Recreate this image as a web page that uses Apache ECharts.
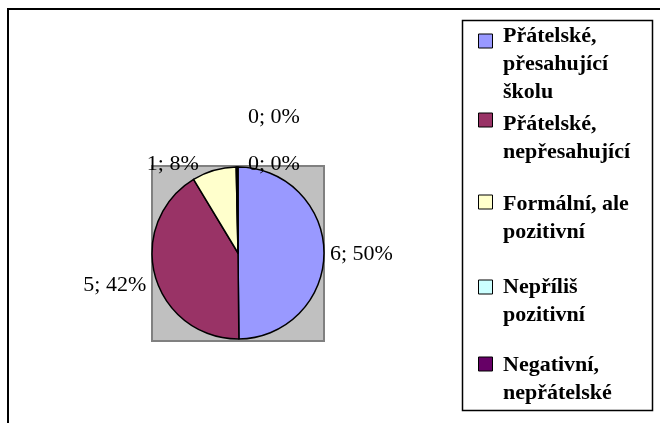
<!DOCTYPE html>
<html>
<head>
<meta charset="utf-8">
<script src="https://cdn.jsdelivr.net/npm/echarts@6/dist/echarts.min.js"></script>
<style>
  html, body { margin: 0; padding: 0; background: #fff; }
  #chart { width: 660px; height: 423px; }
</style>
</head>
<body>
<div id="chart"></div>
<script>
// data
var categories = [
  'Přátelské,\npřesahující\nškolu',
  'Přátelské,\nnepřesahující',
  'Formální, ale\npozitivní',
  'Nepříliš\npozitivní',
  'Negativní,\nnepřátelské'
];
var counts = [6, 5, 1, 0, 0];
var colors = ['#9999ff', '#993366', '#ffffcc', '#ccffff', '#660066'];

// layout
var serif = '"Liberation Serif", "Times New Roman", serif';
var cx = 238, cy = 253, r = 86;
var lineH = 28;
var legendIconY = [41, 120, 202, 287, 364];   // icon centres
var legendTextY = [36, 124, 204, 287, 365];   // first text line centres
// label nudges (dx, dy) from ECharts' default outside spot
var labelNudge = [[0, 2], [-3, 8], [-10, -5]];
var zeroLabelLeft = cx + 10, zeroLabelY = [164, 117];

var pieData = categories.map(function (name, i) {
  return { name: name, value: counts[i], itemStyle: { color: colors[i] } };
});

var legends = categories.map(function (name, i) {
  var n = name.split('\n').length;
  var pad = 2 * (legendTextY[i] - legendIconY[i]) + (n - 1) * lineH;
  var h = pad + n * lineH;
  return {
    data: [name],
    orient: 'vertical',
    left: 478,
    top: legendIconY[i] - h / 2,
    padding: 0,
    itemWidth: 14,
    itemHeight: 14,
    icon: 'rect',
    selectedMode: false,
    itemStyle: { borderColor: '#000', borderWidth: 1 },
    formatter: function (nm) {
      return '{pad| }\n ' + nm.split('\n').join('\n ');
    },
    textStyle: {
      fontFamily: serif,
      fontWeight: 'bold',
      fontSize: 22,
      lineHeight: lineH,
      color: '#000',
      rich: { pad: { lineHeight: pad, height: pad, fontSize: 2 } }
    }
  };
});

var chart = echarts.init(document.getElementById('chart'));
chart.setOption({
  backgroundColor: '#fff',
  animation: false,
  color: colors,
  graphic: [
    { type: 'rect', shape: { x: 8, y: 9, width: 700, height: 500 },
      style: { fill: '#fff', stroke: '#000', lineWidth: 2 }, silent: true },
    { type: 'rect', shape: { x: cx - r, y: cy - 87, width: 2 * r, height: 175 },
      style: { fill: '#c0c0c0', stroke: '#808080', lineWidth: 2 }, silent: true },
    { type: 'rect', shape: { x: 462.5, y: 20.5, width: 190, height: 390 },
      style: { fill: '#fff', stroke: '#000', lineWidth: 1.5 }, silent: true }
  ],
  legend: legends,
  series: [{
    type: 'pie',
    center: [cx, cy],
    radius: r,
    startAngle: 90,
    clockwise: true,
    minAngle: 0.6,
    avoidLabelOverlap: false,
    data: pieData,
    itemStyle: { borderColor: '#000', borderWidth: 1.5 },
    label: {
      show: true,
      position: 'outside',
      fontFamily: serif,
      fontSize: 22,
      color: '#000',
      formatter: function (p) { return p.value + '; ' + Math.round(p.percent) + '%'; }
    },
    labelLine: { show: false, length: 1, length2: 0 },
    labelLayout: function (p) {
      var rect = p.labelRect;
      if (p.dataIndex < labelNudge.length) {
        return { dx: labelNudge[p.dataIndex][0], dy: labelNudge[p.dataIndex][1] };
      }
      var j = p.dataIndex - labelNudge.length;
      return {
        dx: zeroLabelLeft - rect.x,
        dy: zeroLabelY[j] - (rect.y + rect.height / 2)
      };
    },
    emphasis: { disabled: true }
  }]
});
</script>
</body>
</html>
